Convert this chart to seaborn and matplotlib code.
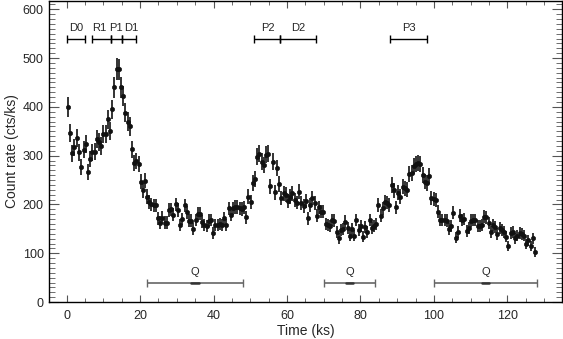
import numpy as np
import pandas as pd
import matplotlib
matplotlib.use("Agg")
import matplotlib.pyplot as plt
import seaborn as sns
from matplotlib.ticker import MultipleLocator

# Light curve (time in ks, rate in cts/ks)
time = [
    0.4, 0.9, 1.6, 2.1, 2.8, 3.5, 4.0, 4.7, 5.3, 5.8,
    6.4, 7.0, 7.6, 8.2, 8.8, 9.4, 10.0, 10.6, 11.2, 11.8,
    12.4, 13.0, 13.6, 14.2, 14.8, 15.4, 16.0, 16.6, 17.2, 17.8,
    18.4, 19.0, 19.6,
    20.2, 20.7, 21.3, 21.9, 22.5, 23.1, 23.7, 24.3, 24.9, 25.5,
    26.1, 26.7, 27.3, 27.9, 28.5, 29.1, 29.7, 30.3, 30.9, 31.5,
    32.1, 32.7, 33.3, 33.9, 34.5, 35.1, 35.7, 36.3, 36.9, 37.5,
    38.1, 38.7, 39.3, 39.9, 40.5, 41.1, 41.7, 42.3, 42.9, 43.5,
    44.1, 44.7, 45.3, 45.9, 46.5, 47.1, 47.7, 48.3, 48.9, 49.5,
    50.1, 50.7, 51.3, 51.9, 52.5, 53.1, 53.7, 54.3, 54.9, 55.5,
    56.1, 56.7, 57.3, 57.9, 58.5, 59.1, 59.7, 60.3, 60.9, 61.5,
    62.1, 62.7, 63.3, 63.9, 64.5, 65.1, 65.7, 66.3, 66.9, 67.5,
    68.1, 68.7, 69.3, 69.9, 70.5, 71.1, 71.7, 72.3, 72.9, 73.5,
    74.1, 74.7, 75.3, 75.9, 76.5, 77.1, 77.7, 78.3, 78.9, 79.5,
    80.1, 80.7, 81.3, 81.9, 82.5, 83.1, 83.7, 84.3, 84.9, 85.5,
    86.1, 86.7, 87.3, 87.9, 88.5, 89.1, 89.7, 90.3, 90.9, 91.5,
    92.1, 92.7, 93.3, 93.9, 94.5, 95.1, 95.7, 96.3, 96.9, 97.5,
    98.1, 98.7, 99.3, 99.9, 100.5, 101.1, 101.7, 102.3, 102.9, 103.5,
    104.1, 104.7, 105.3, 105.9, 106.5, 107.1, 107.7, 108.3, 108.9, 109.5,
    110.1, 110.7, 111.3, 111.9, 112.5, 113.1, 113.7, 114.3, 114.9, 115.5,
    116.1, 116.7, 117.3, 117.9, 118.5, 119.1, 119.7, 120.3, 120.9, 121.5,
    122.1, 122.7, 123.3, 123.9, 124.5, 125.1, 125.7, 126.3, 126.9, 127.5,
]
rate = [
    400, 346, 305, 317, 336, 307, 277, 312, 324, 267,
    293, 307, 308, 335, 328, 320, 345, 345, 375, 350,
    395, 440, 478, 477, 440, 422, 388, 370, 360, 313,
    285, 289, 283,
    247, 229, 249, 216, 205, 200, 198, 198, 172, 163,
    173, 163, 163, 189, 190, 179, 200, 189, 158, 170,
    198, 184, 167, 167, 150, 168, 181, 181, 165, 158,
    155, 167, 168, 141, 158, 158, 160, 158, 172, 158,
    192, 179, 192, 195, 195, 192, 191, 194, 174, 216,
    206, 244, 252, 298, 304, 288, 281, 302, 304, 237,
    288, 225, 274, 242, 213, 223, 220, 208, 216, 223,
    209, 204, 226, 203, 197, 207, 172, 199, 213, 203,
    177, 194, 185, 185, 160, 158, 155, 168, 167, 144,
    131, 148, 149, 165, 151, 136, 149, 136, 168, 148,
    155, 134, 153, 144, 168, 151, 155, 160, 199, 177,
    192, 206, 204, 199, 240, 229, 194, 224, 216, 236,
    233, 230, 263, 264, 279, 283, 285, 283, 261, 247,
    244, 259, 213, 211, 209, 185, 168, 168, 168, 167,
    149, 156, 183, 132, 144, 177, 168, 170, 146, 151,
    167, 168, 168, 156, 155, 158, 175, 174, 162, 144,
    158, 153, 140, 151, 148, 144, 134, 115, 142, 144,
    131, 136, 142, 139, 136, 119, 127, 115, 131, 103,
]

# phase intervals marked above the curve
phase_labels = ["D0", "R1", "P1", "D1", "P2", "D2", "P3"]
phase_start = [0, 7, 12, 15, 51, 58, 88]
phase_end = [5, 12, 15, 19, 58, 68, 98]
phase_label_t = [2.5, 8.8, 13.4, 17.7, 54.7, 63.2, 93.2]

# quiescent intervals marked below the curve
q_start = [22, 70, 100]
q_end = [48, 84, 128]

df = pd.DataFrame({"time": time, "rate": rate})
df["err"] = np.sqrt(df["rate"])  # Poisson-like errors

sns.set_style("ticks")
plt.rcParams["font.family"] = ["Liberation Sans", "DejaVu Sans"]

fig = plt.figure(figsize=(5.63, 3.39), dpi=100)
ax = fig.add_axes([0.0876, 0.109, 0.9115, 0.888])

ax.vlines(df["time"], df["rate"] - df["err"], df["rate"] + df["err"],
          color="#111111", linewidth=1.2)
sns.scatterplot(data=df, x="time", y="rate", ax=ax, marker="o", s=10,
                color="#111111", edgecolor="#111111", linewidth=0.4, zorder=3)

# phase bars
for lab, a, b, lt in zip(phase_labels, phase_start, phase_end, phase_label_t):
    mid = (a + b) / 2
    ax.errorbar(mid, 540, xerr=(b - a) / 2, fmt="none", ecolor="black",
                elinewidth=1.0, capsize=3, capthick=1.0)
    ax.text(lt, 552, lab, ha="center", va="bottom", fontsize=8)

# Q bars
for a, b in zip(q_start, q_end):
    mid = (a + b) / 2
    ax.errorbar(mid, 40, xerr=(b - a) / 2, fmt="none", ecolor="#666666",
                elinewidth=1.2, capsize=3, capthick=1.0)
    ax.plot([mid - 1, mid + 1], [40, 40], color="#333333", linewidth=1.8)
    ax.text(mid, 52, "Q", ha="center", va="bottom", fontsize=8)

ax.set_xlim(-4.7, 135)
ax.set_ylim(0, 617)
ax.xaxis.set_major_locator(MultipleLocator(20))
ax.xaxis.set_minor_locator(MultipleLocator(5))
ax.yaxis.set_major_locator(MultipleLocator(100))
ax.yaxis.set_minor_locator(MultipleLocator(10))
ax.tick_params(axis="both", which="both", direction="in", top=True, right=True,
               color="#555555", labelsize=9)
ax.tick_params(axis="x", which="major", length=4.7, pad=6)
ax.tick_params(axis="x", which="minor", length=2.9)
ax.tick_params(axis="y", which="major", length=7.2, pad=4)
ax.tick_params(axis="y", which="minor", length=4.0)
for sp in ax.spines.values():
    sp.set_linewidth(1.0)
    sp.set_color("black")

ax.set_xlabel("Time (ks)", fontsize=10, labelpad=1)
ax.set_ylabel("Count rate (cts/ks)", fontsize=10, labelpad=3)

fig.savefig("out.png", dpi=100)
